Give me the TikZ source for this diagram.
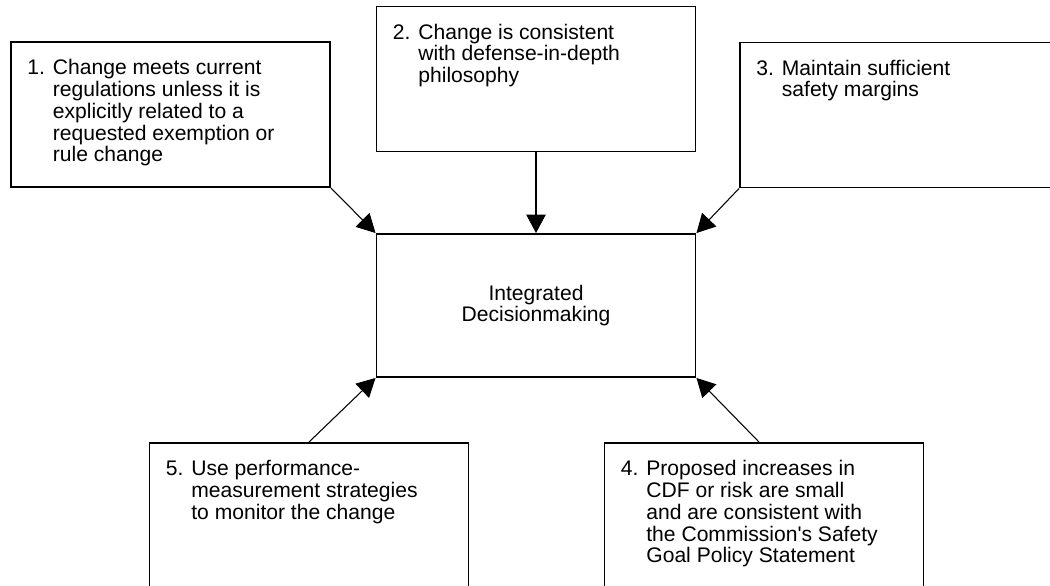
\documentclass[tikz,border=0pt]{standalone}
\usepackage{fontspec}
\setmainfont{Liberation Sans}
\usepackage{tikz}
\usetikzlibrary{
	arrows.meta,
	positioning,
}
\newcommand{\crittext}[2]{\begin{tabular}[t]{@{}l@{\hspace{4.5pt}}l@{}}#1 & \begin{tabular}[t]{@{}l@{}}#2\end{tabular}\end{tabular}}
\tikzset{crit box/.style={draw,rectangle,line width=1.1pt,minimum width=6.38cm,minimum height=2.9cm,inner sep=0mm,}}
\tikzset{crit text/.style={anchor=north west,inner sep=0mm,xshift=3.4mm,yshift=-3.6mm,font=\fontsize{12}{12.4}\selectfont,}}
\tikzset{link/.style={line width=0.6pt,-{Triangle[length=3.7mm,width=3.9mm]},}}
\tikzset{
	thick,
}

\begin{document}
\begin{tikzpicture}
\useasboundingbox (0,0) rectangle (21,-11.72);
\clip (0,0) rectangle (21,-11.72);

\node[crit box,label={[crit text]north west:\crittext{1.}{Change meets current\\regulations unless it is\\explicitly related to a\\requested exemption or\\rule change}}] (c1) at (3.41,-2.29) {};
\node[crit box,label={[crit text]north west:\crittext{2.}{Change is consistent\\with defense-in-depth\\philosophy}}] (c2) at (10.72,-1.58) {};
\node[crit box,label={[crit text]north west:\crittext{3.}{Maintain sufficient\\safety margins}}] (c3) at (17.99,-2.30) {};

\node[crit box,minimum height=2.86cm,align=center,font=\fontsize{12}{12.4}\selectfont] (dec) at (10.72,-6.11) {Integrated\\Decisionmaking};

\node[crit box,label={[crit text]north west:\crittext{5.}{Use performance-\\measurement strategies\\to monitor the change}}] (c5) at (6.18,-10.31) {};
\node[crit box,label={[crit text]north west:\crittext{4.}{Proposed increases in\\CDF or risk are small\\and are consistent with\\the Commission\textquotesingle s Safety\\Goal Policy Statement}}] (c4) at (15.28,-10.31) {};

\draw[link] (c1.south east) -- (dec.north west);
\draw[link] (c2.south) -- (dec.north);
\draw[link] (c3.south west) -- (dec.north east);
\draw[link] (c5.north) -- (dec.south west);
\draw[link] ([xshift=-1mm]c4.north) -- (dec.south east);

\end{tikzpicture}
\end{document}
